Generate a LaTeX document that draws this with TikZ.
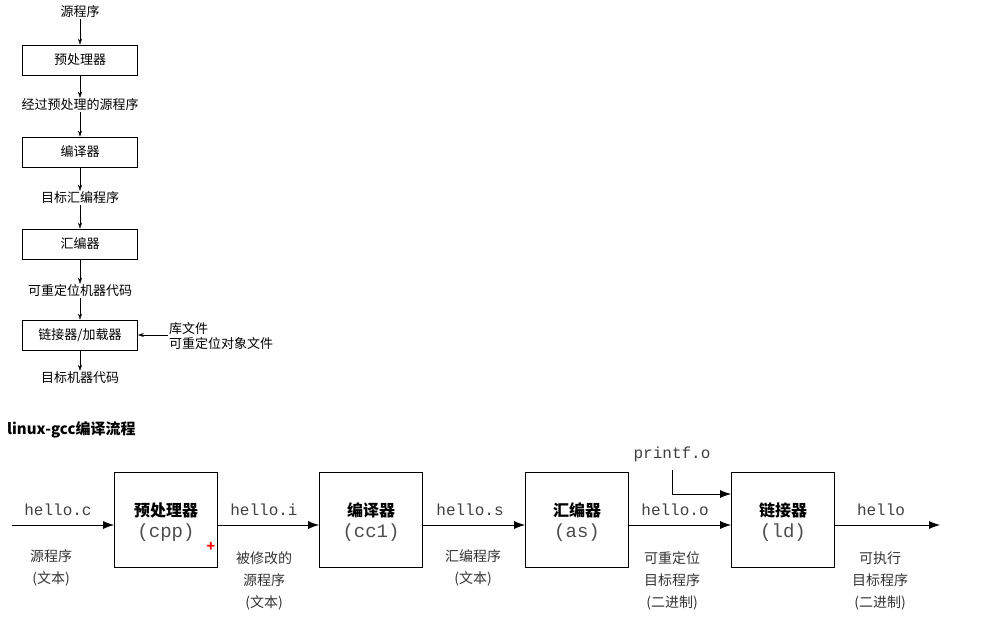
\documentclass[tikz,border=0pt]{standalone}
\usepackage{fontspec}
\setmainfont{Noto Sans CJK SC}
\newfontfamily\cjk{Noto Sans CJK SC}
\newfontfamily\mono{Liberation Mono}
\usetikzlibrary{arrows.meta}
\begin{document}
\begin{tikzpicture}[x=1pt,y=-1pt,
  tbox/.style={draw,thick,minimum width=115pt,minimum height=30pt,inner sep=0pt,font=\fontsize{13}{15}\selectfont},
  tlab/.style={font=\fontsize{13}{15}\selectfont,inner sep=1pt},
  bbox/.style={draw,thick,minimum width=103pt,minimum height=95pt,inner sep=0pt},
  mlab/.style={font=\mono\fontsize{16}{18}\selectfont,text=black!75},
  clab/.style={font=\fontsize{14}{16}\selectfont,text=black!80,inner sep=1pt},
  arr/.style={-{Stealth[length=6pt,width=4pt]},thin},
  barr/.style={-{Latex[length=11pt,width=8pt]},thick}]
\useasboundingbox (0,0) rectangle (982,634);
% top flow
\node[tlab] (s0) at (80,12) {源程序};
\node[tbox] (b1) at (80,60) {预处理器};
\node[tlab] (s1) at (80,105) {经过预处理的源程序};
\node[tbox] (b2) at (80,152) {编译器};
\node[tlab] (s2) at (80,198) {目标汇编程序};
\node[tbox] (b3) at (80,244) {汇编器};
\node[tlab] (s3) at (80,291) {可重定位机器代码};
\node[tbox] (b4) at (80,335) {链接器/加载器};
\node[tlab] (s4) at (80,378) {目标机器代码};
\node[tlab,anchor=west,align=left] (lib) at (168,336) {库文件\\可重定位对象文件};
\draw[arr] (s0) -- (b1);
\draw[arr] (b1) -- (s1);
\draw[arr] (s1) -- (b2);
\draw[arr] (b2) -- (s2);
\draw[arr] (s2) -- (b3);
\draw[arr] (b3) -- (s3);
\draw[arr] (s3) -- (b4);
\draw[arr] (b4) -- (s4);
\draw[arr] (lib.west |- b4) -- (b4.east);
% title
\node[anchor=west,font=\bfseries\fontsize{15}{17}\selectfont,inner sep=0pt] (title) at (7,430) {linux-gcc编译流程};
% bottom flow
\node[bbox] (c1) at (166,520) {};
\node[bbox] (c2) at (371,520) {};
\node[bbox] (c3) at (577,520) {};
\node[bbox] (c4) at (783,520) {};
\foreach \n/\a/\b in {c1/预处理器/cpp,c2/编译器/cc1,c3/汇编器/as,c4/链接器/ld}{
  \node[font=\bfseries\fontsize{16}{18}\selectfont] at ([yshift=10pt]\n.center) {\a};
  \node[font=\mono\fontsize{19}{21}\selectfont,text=black!70] at ([yshift=-13pt]\n.center) {(\b)};
}
\coordinate (in) at (12,525);
\coordinate (out) at (940,525);
\draw[barr] (in) -- (c1.west |- in);
\draw[barr] (c1.east |- in) -- (c2.west |- in);
\draw[barr] (c2.east |- in) -- (c3.west |- in);
\draw[barr] (c3.east |- in) -- (c4.west |- in);
\draw[barr] (c4.east |- in) -- (out);
\node[mlab] at (58,510) {hello.c};
\node[mlab] at (264,510) {hello.i};
\node[mlab] at (470,510) {hello.s};
\node[mlab] at (675,510) {hello.o};
\node[mlab] at (881,510) {hello};
\node[mlab] (pf) at (672,454) {printf.o};
\draw[barr] (672,470) |- (c4.west |- 0,494);
\node[clab,align=center] at (51,568) {源程序\\[6pt](文本)};
\node[clab,align=center] at (264,581) {被修改的\\[6pt]源程序\\[6pt](文本)};
\node[clab,align=center] at (473,568) {汇编程序\\[6pt](文本)};
\node[clab,align=center] at (672,581) {可重定位\\[6pt]目标程序\\[6pt](二进制)};
\node[clab,align=center] at (880,581) {可执行\\[6pt]目标程序\\[6pt](二进制)};
\node[text=red,font=\bfseries\fontsize{14}{14}\selectfont,inner sep=0pt] at (211,547) {+};
\end{tikzpicture}
\end{document}
